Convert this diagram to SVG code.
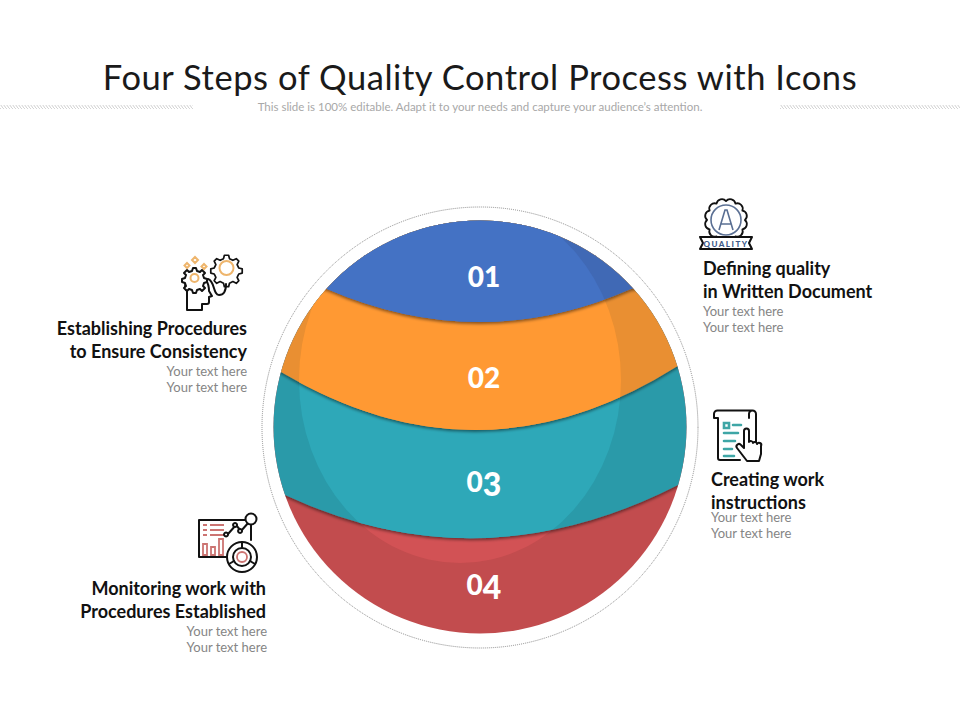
<svg xmlns="http://www.w3.org/2000/svg" width="960" height="720" viewBox="0 0 960 720">
<style>
text{font-family:Lato,"Liberation Sans",sans-serif}
.t{font-size:34.5px;fill:#1a1a1a;text-anchor:middle;letter-spacing:.55px}
.s{font-size:11.5px;fill:#a8a8a8;text-anchor:middle}
.h{font-size:18px;font-weight:700;fill:#111}
.b{font-size:13px;fill:#858585}
.e{text-anchor:end}
.n{font-size:28px;font-weight:900;fill:#fff;text-anchor:middle}
.d{font-size:32px}
.k{fill:none;stroke:#111;stroke-width:2;stroke-linecap:round;stroke-linejoin:round}
.o{fill:none;stroke:#eeb56c;stroke-width:2}
.q{fill:none;stroke:#5a6f93;stroke-width:1.6}
.g{fill:none;stroke:#3ea6a6;stroke-width:2.600;stroke-linecap:round}
.r{fill:none;stroke:#cc7472;stroke-width:1.800}
</style>
<defs>
<clipPath id="ball"><circle cx="480" cy="427" r="206.5"/></clipPath>
<clipPath id="lens"><ellipse cx="460" cy="380" rx="161" ry="183"/></clipPath>
<filter id="sh" x="-10%" y="-10%" width="120%" height="120%"><feDropShadow dx="0" dy="2" stdDeviation="1.8" flood-color="#000" flood-opacity=".45"/></filter>
<pattern id="hatch" width="3" height="4" patternUnits="userSpaceOnUse"><path d="M0,0 L3,4" stroke="#cfcfcf" stroke-width="1"/></pattern>
<path id="p3" d="M270,200 H690 V485 L678,485 Q480,586 285,495 L270,490 Z"/>
<path id="p2" d="M270,200 H690 V360 L676,367 Q480,490.500 281,372 L270,365 Z"/>
<path id="p1" d="M270,200 H690 V280 L631,289 Q480,355 327,289 L270,280 Z"/>
</defs>
<g id="title">
<text class="t" x="480" y="90">Four Steps of Quality Control Process with Icons</text>
<text class="s" x="480" y="111">This slide is 100% editable. Adapt it to your needs and capture your audience’s attention.</text>
<rect x="0" y="105" width="193" height="4" fill="url(#hatch)"/>
<rect x="780" y="105" width="180" height="4" fill="url(#hatch)"/>
</g>
<ellipse id="ring" cx="480" cy="427.500" rx="218" ry="220.500" fill="#fff" stroke="#8a8a8a" stroke-width="1" stroke-dasharray="1 1"/>
<g clip-path="url(#ball)">
<g id="step4"><rect x="270" y="215" width="420" height="425" fill="#c24c4e"/><rect x="270" y="215" width="420" height="425" fill="#d25255" clip-path="url(#lens)"/></g>
<g id="step3"><use href="#p3" fill="#2b9aa9" filter="url(#sh)"/><use href="#p3" fill="#2ea8b8" clip-path="url(#lens)"/></g>
<g id="step2"><use href="#p2" fill="#e98f33" filter="url(#sh)"/><use href="#p2" fill="#ff9933" clip-path="url(#lens)"/></g>
<g id="step1"><use href="#p1" fill="#4069b5" filter="url(#sh)"/><use href="#p1" fill="#4472c4" clip-path="url(#lens)"/></g>
</g>
<g id="numbers">
<text class="n" x="484" y="287">01</text>
<text class="n" x="484" y="388">02</text>
<text class="n" x="484" y="492">0<tspan class="d" dy="4">3</tspan></text>
<text class="n" x="484" y="595">0<tspan class="d" dy="4">4</tspan></text>
</g>
<g id="node-quality">
<path class="k" transform="translate(726 220) scale(.9) translate(-726 -220)" d="M747,220 A6,6 0 0 0 744.200,209.500 A6,6 0 0 0 736.500,201.800 A6,6 0 0 0 726,199 A6,6 0 0 0 715.500,201.800 A6,6 0 0 0 707.800,209.500 A6,6 0 0 0 705,220 A6,6 0 0 0 707.800,230.500 A6,6 0 0 0 715.500,238.200 A6,6 0 0 0 726,241 A6,6 0 0 0 736.500,238.200 A6,6 0 0 0 744.200,230.500 A6,6 0 0 0 747,220 Z"/>
<circle class="q" cx="726" cy="220" r="15"/>
<path class="q" stroke-width="2" d="M719,230 L725,210 h2 L733,230 M721,224 h10"/>
<path class="k" d="M700,237 h52 l-3,6 3,6 h-52 l3,-6 z" style="fill:#fff"/>
<text x="726" y="247" font-size="8" font-weight="900" letter-spacing="1.500" fill="#3d5a8a" text-anchor="middle">QUALITY</text>
<text class="h" x="703" y="274.500">Defining quality</text>
<text class="h" x="703" y="297.500">in Written Document</text>
<text class="b" x="703" y="316">Your text here</text>
<text class="b" x="703" y="332">Your text here</text>
</g>
<g id="node-instructions">
<path class="k" d="M718,418 V458 a2,2 0 0 0 2,2 h20 M756,446 V414 a3.500,3.500 0 0 0 -7,0 v4 M718,418 h-4 v-4 a3.500,3.500 0 0 1 3.500,-3.500 H752.500"/>
<path class="g" d="M724,423 h5 v5 h-5 z M733,425 h8 M724,433 h14 M724,441 h11 M724,449 h8 M724,456 h10"/>
<path class="k" style="fill:#fff" d="M747,461 l-10,-13 a2.200,2.200 0 0 1 4,-3 l3,3 v-17 a2.500,2.500 0 0 1 5,0 v11 a2.200,2.200 0 0 1 4,1 a2.200,2.200 0 0 1 4,1 a2.200,2.200 0 0 1 4,2 v8 l-2,7 z"/>
<text class="h" x="711" y="485.500">Creating work</text>
<text class="h" x="711" y="508.500">instructions</text>
<text class="b" x="711" y="522">Your text here</text>
<text class="b" x="711" y="538">Your text here</text>
</g>
<g id="node-procedures">
<path class="k" d="M187,280 c-3,4 -2,9 0,11 v19 h15 v-6 h5 a2,2 0 0 0 2,-2 v-5 l3,-1 -3,-5 c0,-4 -1,-8 -3,-11"/>
<path class="k" stroke-width="1.600" d="M193,268 l3,0 1,3 3,1 2,-2 3,3 -2,2 1,3 3,1 v3 l-3,1 -1,3 2,2 -3,3 -2,-2 -3,1 -1,3 h-3 l-1,-3 -3,-1 -2,2 -3,-3 2,-2 -1,-3 -3,-1 v-3 l3,-1 1,-3 -2,-2 3,-3 2,2 3,-1 z" style="fill:#fff"/>
<circle class="o" cx="194.500" cy="278" r="4"/>
<path class="k" transform="translate(226.500 268) scale(.85) translate(-226.500 -268)" d="M224,253 h5 l1,4 4,2 4,-2 3,3 -2,4 2,4 4,1 v5 l-4,1 -2,4 2,4 -3,3 -4,-2 -4,2 -1,4 h-5 l-1,-4 -4,-2 -4,2 -3,-3 2,-4 -2,-4 -4,-1 v-5 l4,-1 2,-4 -2,-4 3,-3 4,2 4,-2 z"/>
<circle class="o" cx="226.500" cy="268" r="7"/>
<path class="k" d="M208,279 c7,2 5,16 11,16 c6,0 7,-6 7,-11"/>
<path class="o" stroke-width="1.300" d="M195,257 l3,3 -3,3 -3,-3 z M187,263 l2.500,2.500 -2.500,2.500 -2.500,-2.500 z M204,264 l2.500,2.500 -2.500,2.500 -2.500,-2.500 z"/>
<text class="h e" x="247" y="334.500">Establishing Procedures</text>
<text class="h e" x="247" y="357.500">to Ensure Consistency</text>
<text class="b e" x="247" y="376">Your text here</text>
<text class="b e" x="247" y="392">Your text here</text>
</g>
<g id="node-monitoring">
<path class="k" d="M245,520 H199 V557 H228"/>
<path class="r" d="M203,525 h4 m3,0 h14 M203,530 h4 m3,0 h14 M203,535 h4 m3,0 h14 M203,544 h4 v11 h-4 z M211,547 h4 v8 h-4 z M219,539 h4 v16 h-4 z"/>
<path class="k" d="M228,534 l8,-9 5,6 8,-9"/>
<path class="k" stroke-width="1.500" style="fill:#fff" d="M226,532.500 a2,2 0 1 0 .1,0 z M235,523 a2,2 0 1 0 .1,0 z M240,529 a2,2 0 1 0 .1,0 z"/>
<circle class="k" cx="251" cy="519" r="5.500" style="fill:#fff"/>
<path class="k" d="M251,525 V540"/>
<circle class="k" cx="242" cy="557" r="15" style="fill:#fff"/>
<circle class="k" cx="242" cy="557" r="9"/>
<circle class="r" cx="242" cy="557" r="5"/>
<path class="k" stroke-width="1.500" d="M242,542 v6 M229,564 l5,-3 M255,564 l-5,-3"/>
<text class="h e" x="266" y="594.500">Monitoring work with</text>
<text class="h e" x="266" y="617.500">Procedures Established</text>
<text class="b e" x="267" y="636">Your text here</text>
<text class="b e" x="267" y="652">Your text here</text>
</g>
</svg>
